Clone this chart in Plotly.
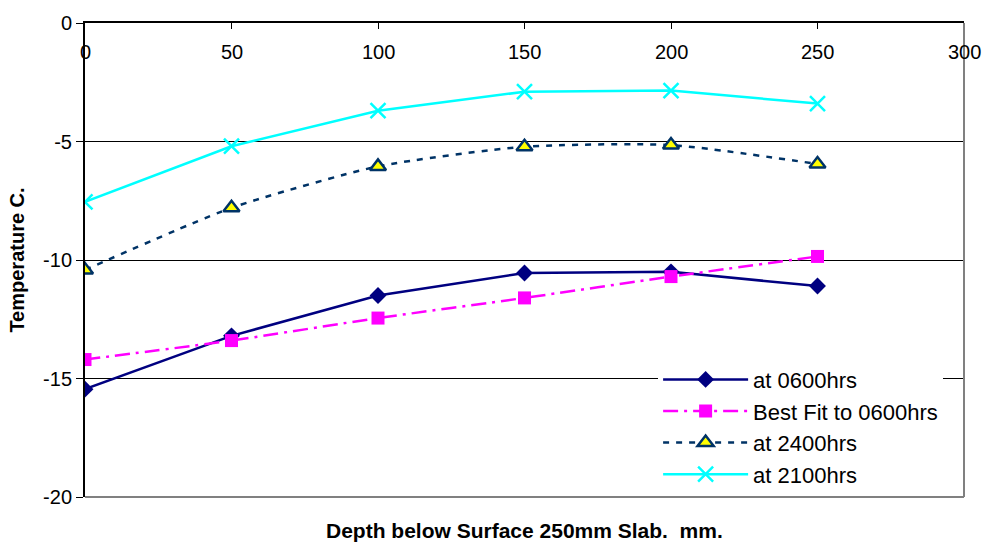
import plotly.graph_objects as go

depth = [0, 50, 100, 150, 200, 250]
t0600 = [-15.45, -13.2, -11.5, -10.55, -10.5, -11.1]
fit0600 = [-14.2, -13.4, -12.45, -11.6, -10.7, -9.85]
t2400 = [-10.42, -7.8, -6.05, -5.22, -5.15, -5.95]
t2100 = [-7.55, -5.2, -3.7, -2.9, -2.85, -3.4]

x_ticks = [0, 50, 100, 150, 200, 250, 300]
y_ticks = [0, -5, -10, -15, -20]

FONT = "Liberation Sans, Arial, sans-serif"

fig = go.Figure()
fig.add_trace(go.Scatter(
    x=depth, y=t0600, name="at 0600hrs", mode="lines+markers",
    line=dict(color="#000080", width=2.5),
    marker=dict(symbol="diamond", size=13, color="#000080")))
fig.add_trace(go.Scatter(
    x=depth, y=fit0600, name="Best Fit to 0600hrs", mode="lines+markers",
    line=dict(color="#FF00FF", width=2.5, dash="longdashdot", shape="spline", smoothing=0.6),
    marker=dict(symbol="square", size=13, color="#FF00FF")))
fig.add_trace(go.Scatter(
    x=depth, y=t2400, name="at 2400hrs", mode="lines+markers",
    line=dict(color="#003366", width=2.5, dash="6px,7px", shape="spline", smoothing=0.6),
    marker=dict(symbol="triangle-up", size=14, color="#FFFF00",
                line=dict(color="#003366", width=2.5))))
fig.add_trace(go.Scatter(
    x=depth, y=t2100, name="at 2100hrs", mode="lines+markers",
    line=dict(color="#00FFFF", width=2.5),
    marker=dict(symbol="x-thin", size=15, color="#00FFFF",
                line=dict(color="#00FFFF", width=2.5))))

fig.update_layout(
    width=984, height=547,
    margin=dict(l=85, r=20, t=19, b=50),
    paper_bgcolor="white", plot_bgcolor="white",
    font=dict(family=FONT, size=20, color="black"),
    showlegend=True,
    legend=dict(x=0.652, y=0.003, xanchor="left", yanchor="bottom",
                bgcolor="white", borderwidth=0,
                font=dict(family=FONT, size=22, color="black"),
                itemwidth=85, tracegroupgap=0),
    xaxis=dict(range=[0, 300], side="top", tickvals=x_ticks,
               ticks="inside", ticklen=6, tickcolor="black",
               showticklabels=False,
               showline=True, linecolor="black", linewidth=2,
               showgrid=False, zeroline=False, title=None),
    yaxis=dict(range=[-20, 0], tickvals=y_ticks,
               ticktext=[str(v) for v in y_ticks],
               ticks="outside", ticklen=7, tickcolor="black",
               showline=True, linecolor="black", linewidth=2,
               showgrid=True, gridcolor="black", gridwidth=1,
               zeroline=False,
               tickfont=dict(family=FONT, size=20, color="black"),
               title=dict(text="<b>Temperature C.</b>",
                          font=dict(family=FONT, size=20, color="black"),
                          standoff=13)),
)
# x tick labels drawn just below the top axis line (inside the plot)
for v in x_ticks:
    fig.add_annotation(text=str(v), x=v, xref="x", y=1, yref="paper",
                       yanchor="middle", yshift=-29, showarrow=False,
                       font=dict(family=FONT, size=20, color="black"))
# plot-area border (gray right and bottom)
fig.add_shape(type="line", xref="paper", yref="paper", x0=1, x1=1, y0=0, y1=1,
              line=dict(color="#808080", width=2), layer="above")
fig.add_shape(type="line", xref="paper", yref="paper", x0=0, x1=1, y0=0, y1=0,
              line=dict(color="#808080", width=2), layer="above")
fig.add_annotation(text="<b>Depth below Surface 250mm Slab.  mm.</b>",
                   xref="paper", yref="paper", x=0.5, y=-0.071, yanchor="middle",
                   showarrow=False,
                   font=dict(family=FONT, size=21, color="black"))

fig.write_html("out.html")
